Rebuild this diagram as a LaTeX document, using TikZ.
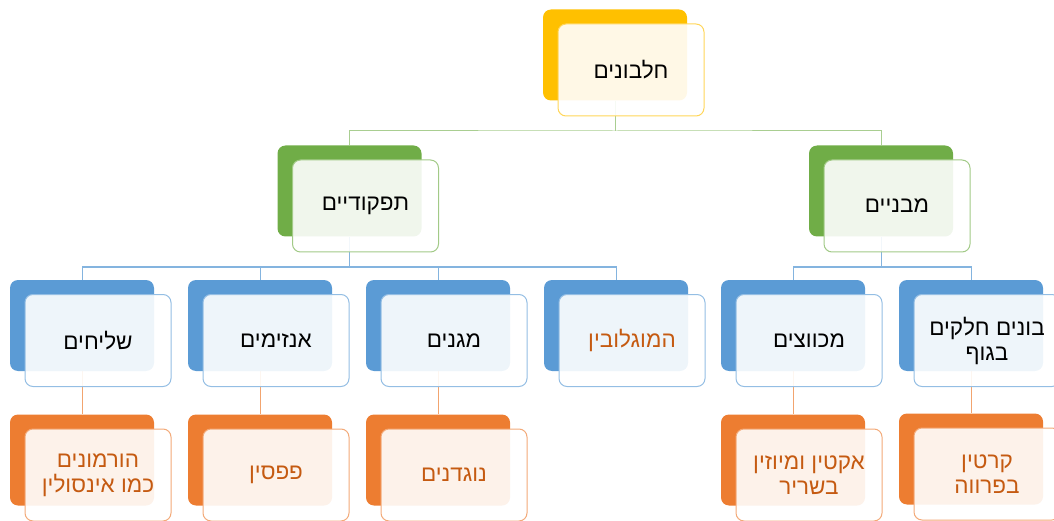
\documentclass[tikz,border=0pt]{standalone}
\usepackage{fontspec}
\usetikzlibrary{backgrounds}
\TeXXeTstate=1
\newfontfamily\hebfont[Script=Hebrew]{Liberation Sans}
\definecolor{gold}{HTML}{FFC000}
\definecolor{leaf}{HTML}{70AD47}
\definecolor{sky}{HTML}{5B9BD5}
\definecolor{rust}{HTML}{ED7D31}
\definecolor{rusttext}{HTML}{C55A11}
\tikzset{
  shadebox/.style={rounded corners=8pt, minimum width=144pt, minimum height=91pt, fill=#1, draw=none},
  facebox/.style={rounded corners=8pt, minimum width=146pt, minimum height=92pt, draw=#1!65!white, line width=1pt,
    fill=white, fill opacity=0.9, text opacity=1, align=center, text=black,
    font=\hebfont\fontsize{22.5}{25}\selectfont},
  wire/.style={draw=#1, line width=1pt}
}

\begin{document}
\begin{tikzpicture}[x=1pt,y=-1pt]
\clip (0,0) rectangle (1054,521);
% root
\node[shadebox=gold] (b-prot) at (615,55) {};
\node[facebox=gold] (prot) at ([shift={(16,15)}]b-prot.center) {\beginR חלבונים\endR};
% second row
\node[shadebox=leaf] (b-tafk) at (349.5,191) {};
\node[facebox=leaf] (tafk) at ([shift={(16,15)}]b-tafk.center) {\beginR תפקודיים\endR};
\node[shadebox=leaf] (b-mivn) at (881,191) {};
\node[facebox=leaf] (mivn) at ([shift={(16,15)}]b-mivn.center) {\beginR מבניים\endR};
% third row
\node[shadebox=sky] (b-shl) at (82,325.5) {};
\node[facebox=sky] (shl) at ([shift={(16,15)}]b-shl.center) {\beginR שליחים\endR};
\node[shadebox=sky] (b-anz) at (260,325.5) {};
\node[facebox=sky] (anz) at ([shift={(16,15)}]b-anz.center) {\beginR אנזימים\endR};
\node[shadebox=sky] (b-mag) at (438,325.5) {};
\node[facebox=sky] (mag) at ([shift={(16,15)}]b-mag.center) {\beginR מגנים\endR};
\node[shadebox=sky] (b-hem) at (616,325.5) {};
\node[facebox=sky, text=rusttext] (hem) at ([shift={(16,15)}]b-hem.center) {\beginR המוגלובין\endR};
\node[shadebox=sky] (b-mac) at (793,325.5) {};
\node[facebox=sky] (mac) at ([shift={(16,15)}]b-mac.center) {\beginR מכווצים\endR};
\node[shadebox=sky] (b-bon) at (971,325.5) {};
\node[facebox=sky] (bon) at ([shift={(16,15)}]b-bon.center) {\beginR בונים חלקים\endR\\\beginR בגוף\endR};
% fourth row
\node[shadebox=rust] (b-hor) at (82,460) {};
\node[facebox=rust, text=rusttext] (hor) at ([shift={(16,15)}]b-hor.center) {\beginR הורמונים\endR\\\beginR כמו אינסולין\endR};
\node[shadebox=rust] (b-pep) at (260,460) {};
\node[facebox=rust, text=rusttext] (pep) at ([shift={(16,15)}]b-pep.center) {\beginR פפסין\endR};
\node[shadebox=rust] (b-nog) at (438,460) {};
\node[facebox=rust, text=rusttext] (nog) at ([shift={(16,15)}]b-nog.center) {\beginR נוגדנים\endR};
\node[shadebox=rust] (b-akt) at (793,460) {};
\node[facebox=rust, text=rusttext] (akt) at ([shift={(16,15)}]b-akt.center) {\beginR אקטין ומיוזין\endR\\\beginR בשריר\endR};
\node[shadebox=rust] (b-ker) at (971,459) {};
\node[facebox=rust, text=rusttext] (ker) at ([shift={(16,15)}]b-ker.center) {\beginR קרטין\endR\\\beginR בפרווה\endR};

\coordinate (bus1) at (0,131);
\coordinate (bus2) at (0,267);
\begin{pgfonlayer}{background}
\draw[wire=leaf!60!white] (b-prot.south) -- (b-prot.south |- bus1);
\draw[wire=leaf!60!white] (b-tafk.north) |- (bus1 -| b-prot.south) -| (b-mivn.north);
\draw[wire=sky!75!white] (b-tafk.south) -- (b-tafk.south |- bus2);
\draw[wire=sky!75!white] (b-shl.north) |- (bus2 -| b-hem.north) -- (b-hem.north);
\draw[wire=sky!75!white] (b-mivn.south) -- (b-mivn.south |- bus2);
\draw[wire=sky!75!white] (b-mac.north) |- (bus2 -| b-bon.north) -- (b-bon.north);
\foreach \n in {anz,mag}
  \draw[wire=sky!75!white] (b-\n.north) -- (b-\n.north |- bus2);
\foreach \n/\m in {shl/hor,anz/pep,mag/nog,mac/akt,bon/ker}
  \draw[wire=rust!70!white] (b-\n.south) -- (b-\m.north);
\end{pgfonlayer}
\end{tikzpicture}
\end{document}
